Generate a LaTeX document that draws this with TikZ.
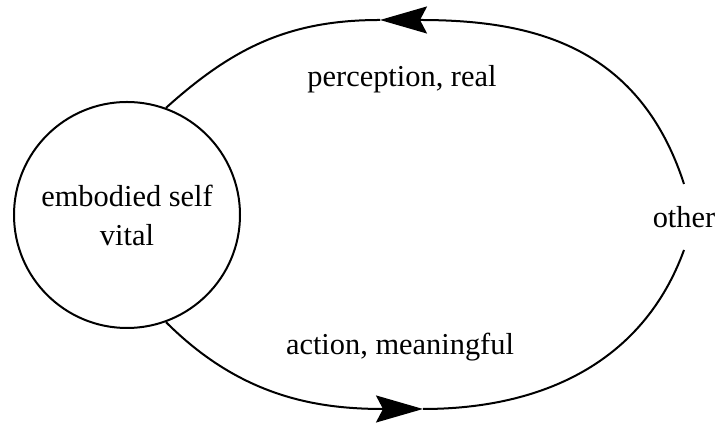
\documentclass[tikz,border=0pt]{standalone}
\usepackage{fontspec}
\setmainfont{Liberation Serif}
\usetikzlibrary{arrows.meta}
\begin{document}
\begin{tikzpicture}[x=0.5pt, y=0.5pt, line width=1pt,
    lbl/.style={font=\fontsize{15.2}{19.5}\selectfont},
    flow/.style={-{Stealth[length=23.5pt,width=13.5pt,inset=3.5pt]}}]
    \useasboundingbox (0,0) rectangle (717,426);
    % Self and other
    \node[lbl, draw, circle, minimum size=113pt, inner sep=0pt, align=center] (self) at (127,211) {embodied self\\vital};
    \node[lbl, inner sep=0pt, minimum height=32pt] (other) at (684,209) {other};
    \coordinate (ptop) at (380,406);
    \coordinate (pbot) at (423,17);
    % Labels
    \node[lbl, anchor=base] (perc) at (402,339) {perception, real};
    \node[lbl, anchor=base] (act) at (400,71) {action, meaningful};
    % Loop
    \draw[flow] (other.north) to[out=108,in=0,looseness=1.1] (ptop);
    \draw (ptop) to[out=180,in=42] (self.70);
    \draw[flow] (self.-70) to[out=-45,in=180] (pbot);
    \draw (pbot) to[out=0,in=-110] (other.south);
\end{tikzpicture}
\end{document}
